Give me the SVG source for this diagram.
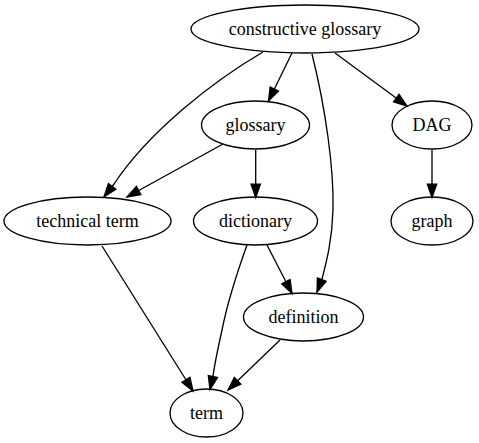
<svg xmlns="http://www.w3.org/2000/svg" width="479" height="443" viewBox="0 0 479 443">
<style>
.node ellipse{fill:none;stroke:#000;stroke-width:1.33}
.node text{font-family:"Liberation Serif","Times New Roman",serif;font-size:18px;text-anchor:middle;fill:#000}
.edge{fill:none;stroke:#000;stroke-width:1.33;marker-end:url(#arr)}
</style>
<defs>
<marker id="arr" markerUnits="userSpaceOnUse" markerWidth="16" markerHeight="12" refX="13.3" refY="4.67" orient="auto" overflow="visible">
<path d="M0,0 L13.3,4.67 L0,9.33 Z" fill="#000" stroke="#000" stroke-width="1.33"/>
</marker>
</defs>
<rect width="479" height="443" fill="#fff"/>
<g id="connectors">
<path class="edge" d="M292,53 L268.5,101"/>
<path class="edge" d="M263,52 C215,80 150,130 114,184 L104,197"/>
<path class="edge" d="M312,54 C326,110 334,170 333,210 C332,240 327,260 322,279 L317,292"/>
<path class="edge" d="M335,53 L407,106"/>
<path class="edge" d="M223,144 L127,197"/>
<path class="edge" d="M255.7,150 L255.7,197.5"/>
<path class="edge" d="M432,150 L432,197.5"/>
<path class="edge" d="M102,246 L193,391"/>
<path class="edge" d="M247,245 C238,270 228,300 222,330 C218,348 215,362 213,376 L210,389.5"/>
<path class="edge" d="M267,245 L292,293.5"/>
<path class="edge" d="M280,340 L228,390"/>
</g>
<g id="constructive-glossary" class="node"><ellipse cx="305" cy="29" rx="114" ry="24"/><text x="305" y="35">constructive glossary</text></g>
<g id="glossary" class="node"><ellipse cx="255.5" cy="125" rx="54" ry="24"/><text x="255.5" y="131">glossary</text></g>
<g id="DAG" class="node"><ellipse cx="432" cy="125" rx="40" ry="24"/><text x="432" y="131">DAG</text></g>
<g id="technical-term" class="node"><ellipse cx="87.5" cy="221" rx="83.5" ry="24"/><text x="87.5" y="227">technical term</text></g>
<g id="dictionary" class="node"><ellipse cx="255.5" cy="221" rx="62" ry="24"/><text x="255.5" y="227">dictionary</text></g>
<g id="graph" class="node"><ellipse cx="432" cy="221" rx="41" ry="24"/><text x="432" y="227">graph</text></g>
<g id="definition" class="node"><ellipse cx="303.5" cy="317" rx="60" ry="24"/><text x="303.5" y="323">definition</text></g>
<g id="term" class="node"><ellipse cx="206.5" cy="413" rx="36.5" ry="24"/><text x="206.5" y="419">term</text></g>
</svg>
